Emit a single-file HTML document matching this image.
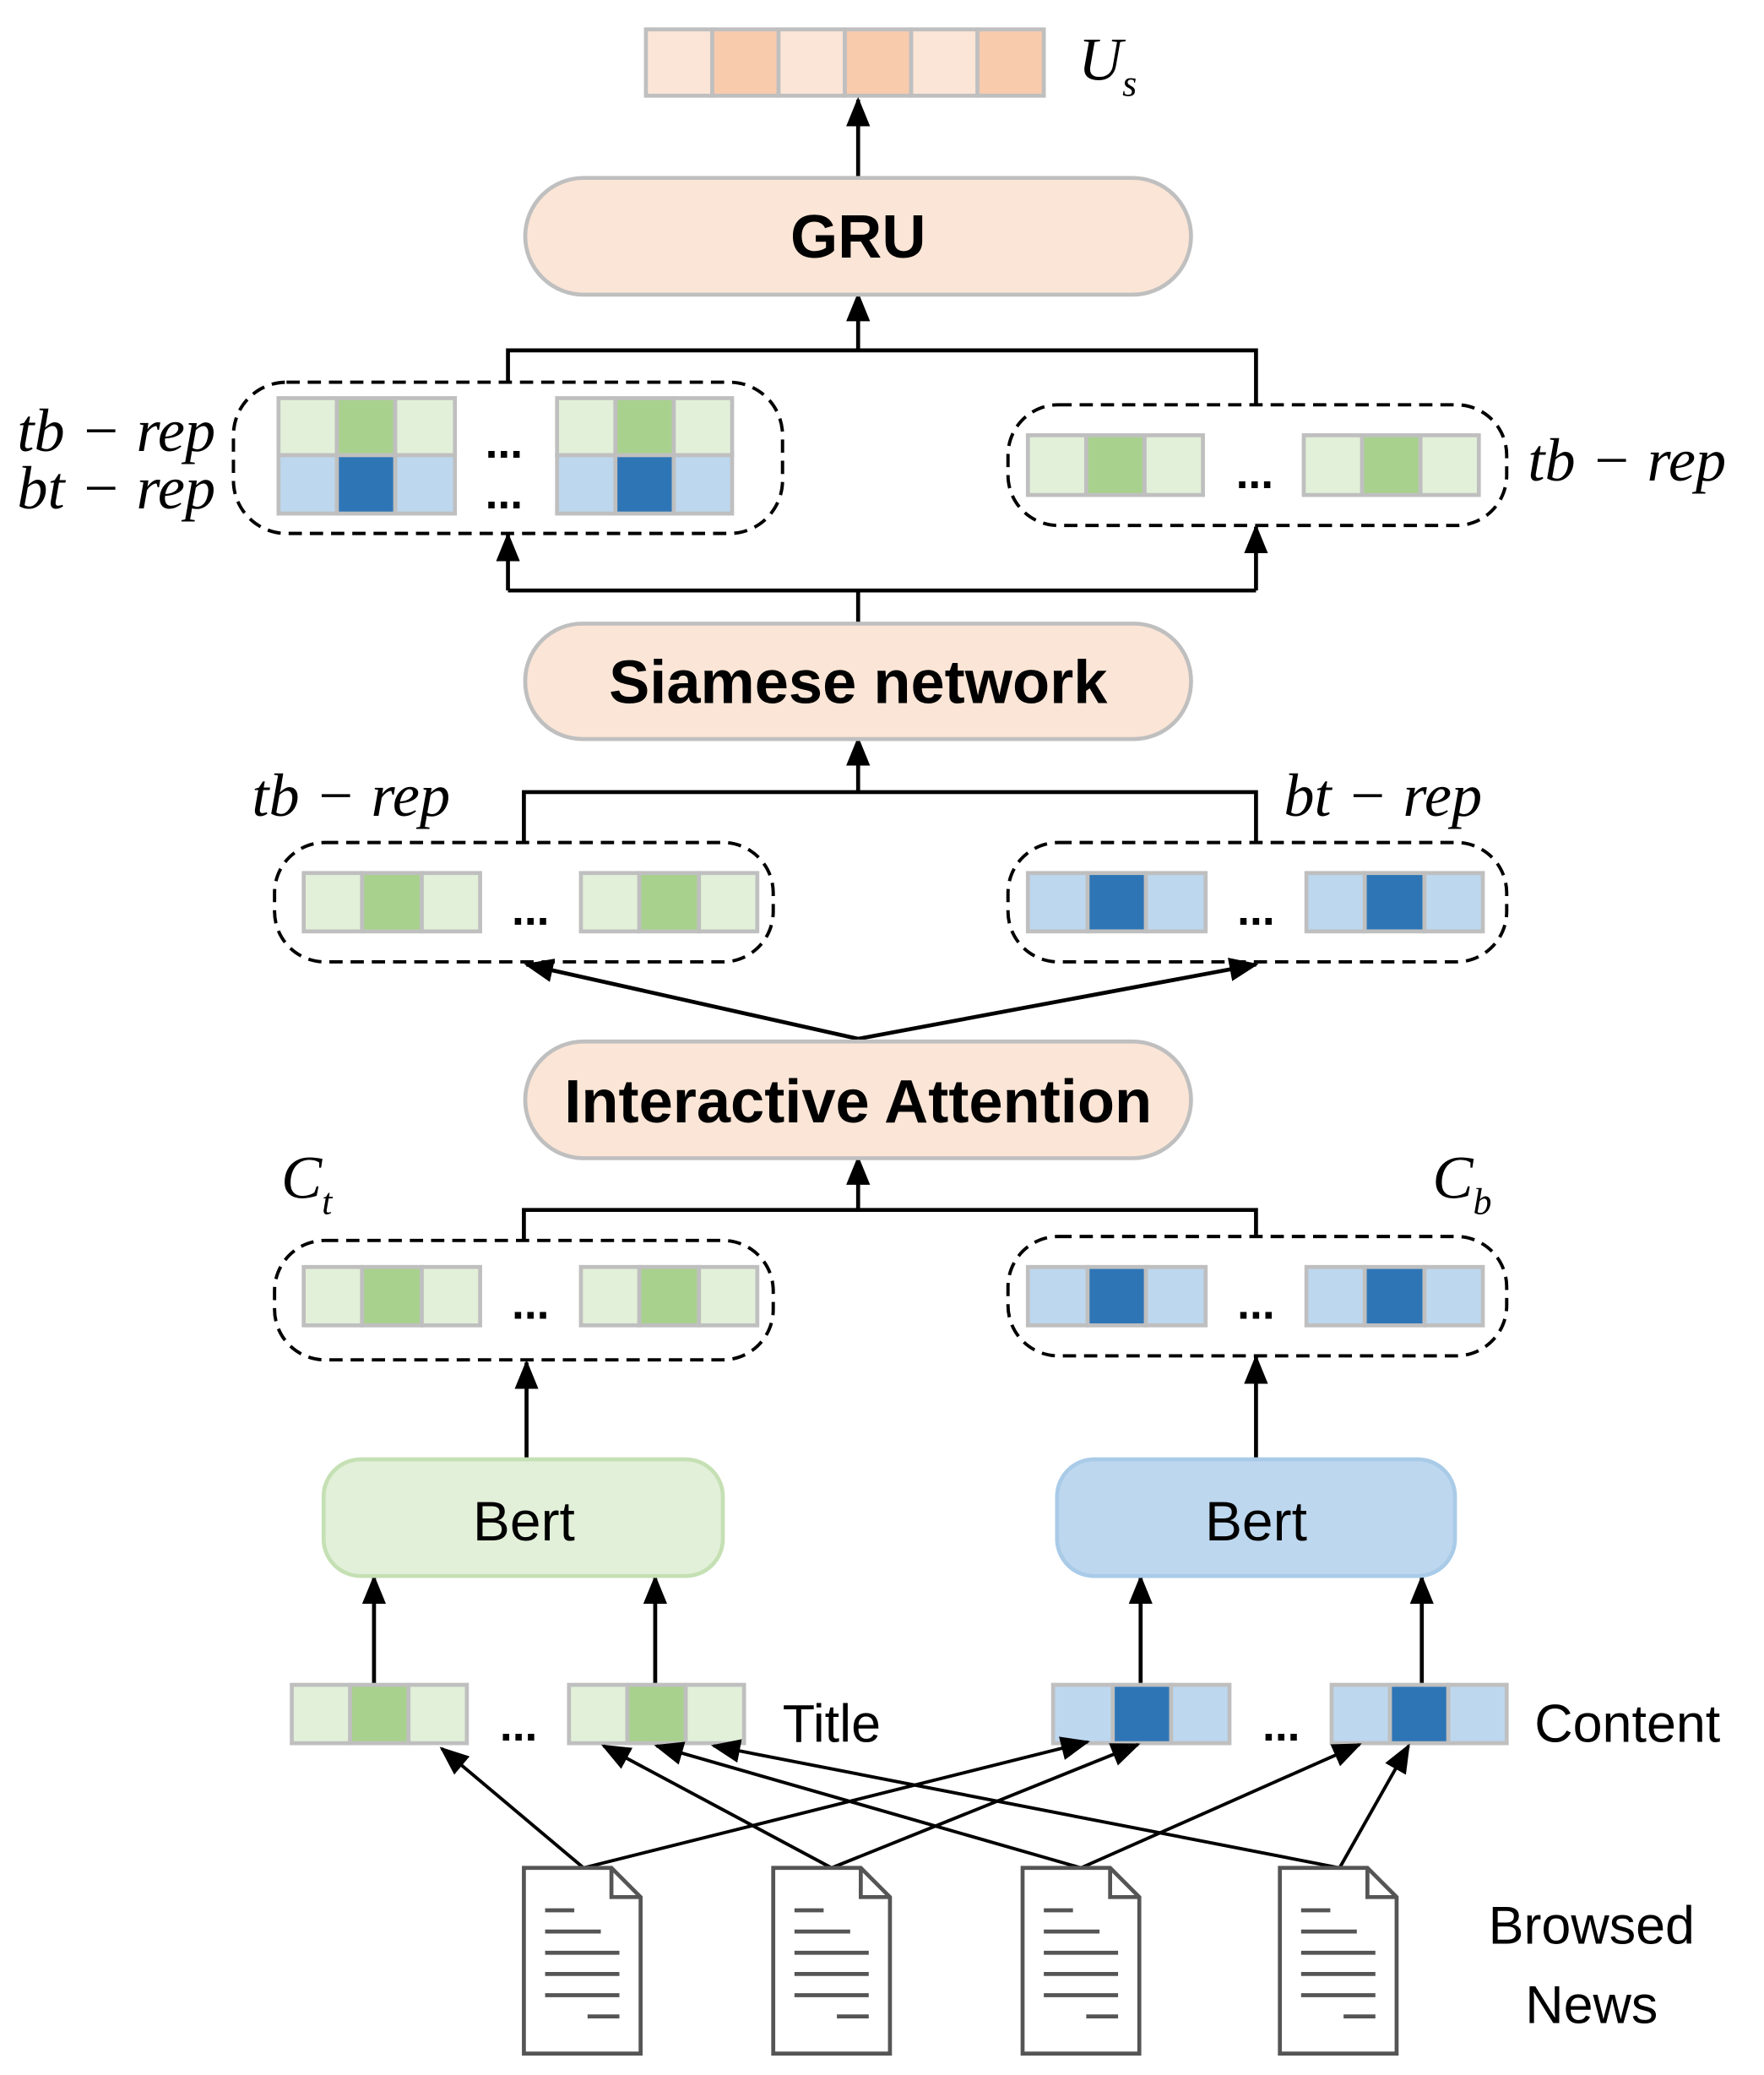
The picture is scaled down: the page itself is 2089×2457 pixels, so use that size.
<!DOCTYPE html>
<html><head><meta charset="utf-8"><style>html,body{margin:0;padding:0;background:#fff}svg{display:block}</style></head><body>
<svg width="2089" height="2457" viewBox="0 0 1330 1564" xmlns="http://www.w3.org/2000/svg">
<defs>
<marker id="b" markerWidth="22" markerHeight="22" refX="20" refY="11" orient="auto" markerUnits="userSpaceOnUse" viewBox="0 0 22 22"><path d="M0,2 L22,11 L0,20 z" fill="#000"/></marker>
</defs>
<g font-family="Liberation Sans, sans-serif">
<g stroke="#bfbfbf" stroke-width="3">
<rect x="487" y="22" width="50" height="50" fill="#fbe5d6"/><rect x="537" y="22" width="50" height="50" fill="#f8cbad"/>
<rect x="587" y="22" width="50" height="50" fill="#fbe5d6"/><rect x="637" y="22" width="50" height="50" fill="#f8cbad"/>
<rect x="687" y="22" width="50" height="50" fill="#fbe5d6"/><rect x="737" y="22" width="50" height="50" fill="#f8cbad"/>
</g>
<text x="813" y="60" font-family="Liberation Serif, serif" font-style="italic" font-size="46">U<tspan font-size="28" dy="12">s</tspan></text>

<g stroke="#000" stroke-width="3" fill="none">
<line x1="647" y1="134" x2="647" y2="75" marker-end="url(#b)"/>
<line x1="647" y1="264" x2="647" y2="222" marker-end="url(#b)"/>
<polyline points="383,288 383,264 947,264 947,305"/>
<line x1="383" y1="445" x2="383" y2="403" marker-end="url(#b)"/>
<line x1="947" y1="445" x2="947" y2="397" marker-end="url(#b)"/>
<polyline points="383,445 947,445"/><line x1="647" y1="445" x2="647" y2="470"/>
<line x1="647" y1="598" x2="647" y2="557" marker-end="url(#b)"/>
<polyline points="395,635 395,597 947,597 947,635"/>
<line x1="647" y1="783" x2="397" y2="727" marker-end="url(#b)"/>
<line x1="647" y1="783" x2="947" y2="727" marker-end="url(#b)"/>
<line x1="647" y1="912" x2="647" y2="873" marker-end="url(#b)"/>
<polyline points="395,935 395,912 947,912 947,932"/>
<line x1="397" y1="1100" x2="397" y2="1027" marker-end="url(#b)"/>
<line x1="947" y1="1100" x2="947" y2="1023" marker-end="url(#b)"/>
<line x1="282" y1="1270" x2="282" y2="1189" marker-end="url(#b)"/>
<line x1="494" y1="1270" x2="494" y2="1189" marker-end="url(#b)"/>
<line x1="860" y1="1270" x2="860" y2="1189" marker-end="url(#b)"/>
<line x1="1072" y1="1270" x2="1072" y2="1189" marker-end="url(#b)"/>
</g>

<g fill="#fbe5d6" stroke="#bfbfbf" stroke-width="3">
<rect x="396" y="134" width="502" height="88" rx="44"/>
<rect x="396" y="470" width="502" height="87" rx="43"/>
<rect x="396" y="785" width="502" height="88" rx="44"/>
</g>
<g font-weight="bold" font-size="46" text-anchor="middle" fill="#000">
<text x="647" y="194">GRU</text>
<text x="647" y="530">Siamese network</text>
<text x="647" y="846">Interactive Attention</text>
</g>
<rect x="244" y="1100" width="301" height="88" rx="28" fill="#e2f0d9" stroke="#c5e0b4" stroke-width="3"/>
<rect x="797" y="1100" width="300" height="88" rx="28" fill="#bdd7ee" stroke="#a9cbe8" stroke-width="3"/>
<text x="395" y="1161" font-size="42" text-anchor="middle">Bert</text>
<text x="947" y="1161" font-size="42" text-anchor="middle">Bert</text>

<g fill="none" stroke="#000" stroke-width="2.5" stroke-dasharray="10,6">
<rect x="176" y="288" width="414" height="114" rx="40"/>
<rect x="760" y="305" width="376" height="91" rx="38"/>
<rect x="207" y="635" width="376" height="90" rx="38"/>
<rect x="760" y="635" width="376" height="90" rx="38"/>
<rect x="207" y="935" width="376" height="90" rx="38"/>
<rect x="760" y="932" width="376" height="90" rx="38"/>
</g>

<g stroke="#bfbfbf" stroke-width="3">
<rect x="210" y="300" width="44" height="43" fill="#e2f0d9"/><rect x="254" y="300" width="44" height="43" fill="#a9d18e"/><rect x="298" y="300" width="45" height="43" fill="#e2f0d9"/>
<rect x="210" y="343" width="44" height="44" fill="#bdd7ee"/><rect x="254" y="343" width="44" height="44" fill="#2e75b6"/><rect x="298" y="343" width="45" height="44" fill="#bdd7ee"/>
<rect x="420" y="300" width="44" height="43" fill="#e2f0d9"/><rect x="464" y="300" width="44" height="43" fill="#a9d18e"/><rect x="508" y="300" width="44" height="43" fill="#e2f0d9"/>
<rect x="420" y="343" width="44" height="44" fill="#bdd7ee"/><rect x="464" y="343" width="44" height="44" fill="#2e75b6"/><rect x="508" y="343" width="44" height="44" fill="#bdd7ee"/>
<rect x="775" y="328" width="44" height="45" fill="#e2f0d9"/><rect x="819" y="328" width="44" height="45" fill="#a9d18e"/><rect x="863" y="328" width="44" height="45" fill="#e2f0d9"/>
<rect x="983" y="328" width="44" height="45" fill="#e2f0d9"/><rect x="1027" y="328" width="44" height="45" fill="#a9d18e"/><rect x="1071" y="328" width="44" height="45" fill="#e2f0d9"/>
<rect x="229" y="658" width="44" height="44" fill="#e2f0d9"/><rect x="273" y="658" width="45" height="44" fill="#a9d18e"/><rect x="318" y="658" width="44" height="44" fill="#e2f0d9"/>
<rect x="438" y="658" width="44" height="44" fill="#e2f0d9"/><rect x="482" y="658" width="45" height="44" fill="#a9d18e"/><rect x="527" y="658" width="44" height="44" fill="#e2f0d9"/>
<rect x="775" y="658" width="45" height="44" fill="#bdd7ee"/><rect x="820" y="658" width="44" height="44" fill="#2e75b6"/><rect x="864" y="658" width="45" height="44" fill="#bdd7ee"/>
<rect x="985" y="658" width="44" height="44" fill="#bdd7ee"/><rect x="1029" y="658" width="45" height="44" fill="#2e75b6"/><rect x="1074" y="658" width="44" height="44" fill="#bdd7ee"/>
<rect x="229" y="955" width="44" height="44" fill="#e2f0d9"/><rect x="273" y="955" width="45" height="44" fill="#a9d18e"/><rect x="318" y="955" width="44" height="44" fill="#e2f0d9"/>
<rect x="438" y="955" width="44" height="44" fill="#e2f0d9"/><rect x="482" y="955" width="45" height="44" fill="#a9d18e"/><rect x="527" y="955" width="44" height="44" fill="#e2f0d9"/>
<rect x="775" y="955" width="45" height="44" fill="#bdd7ee"/><rect x="820" y="955" width="44" height="44" fill="#2e75b6"/><rect x="864" y="955" width="45" height="44" fill="#bdd7ee"/>
<rect x="985" y="955" width="44" height="44" fill="#bdd7ee"/><rect x="1029" y="955" width="45" height="44" fill="#2e75b6"/><rect x="1074" y="955" width="44" height="44" fill="#bdd7ee"/>
<rect x="220" y="1270" width="44" height="44" fill="#e2f0d9"/><rect x="264" y="1270" width="44" height="44" fill="#a9d18e"/><rect x="308" y="1270" width="44" height="44" fill="#e2f0d9"/>
<rect x="429" y="1270" width="44" height="44" fill="#e2f0d9"/><rect x="473" y="1270" width="44" height="44" fill="#a9d18e"/><rect x="517" y="1270" width="44" height="44" fill="#e2f0d9"/>
<rect x="794" y="1270" width="45" height="44" fill="#bdd7ee"/><rect x="839" y="1270" width="44" height="44" fill="#2e75b6"/><rect x="883" y="1270" width="44" height="44" fill="#bdd7ee"/>
<rect x="1004" y="1270" width="44" height="44" fill="#bdd7ee"/><rect x="1048" y="1270" width="44" height="44" fill="#2e75b6"/><rect x="1092" y="1270" width="44" height="44" fill="#bdd7ee"/>
</g>

<g font-size="34" font-weight="bold" text-anchor="middle">
<text x="380" y="345">...</text><text x="380" y="383">...</text>
<text x="946" y="368">...</text>
<text x="400" y="697">...</text><text x="947" y="697">...</text>
<text x="400" y="994">...</text><text x="947" y="994">...</text>
<text x="391" y="1312">...</text><text x="966" y="1312">...</text>
</g>

<g font-family="Liberation Serif, serif" font-style="italic" font-size="46">
<text x="13" y="340">tb − rep</text>
<text x="13" y="383">bt − rep</text>
<text x="1152" y="362">tb − rep</text>
<text x="190" y="615">tb − rep</text>
<text x="968" y="615">bt − rep</text>
<text x="212" y="903">C<tspan font-size="28" dy="12">t</tspan></text>
<text x="1080" y="903">C<tspan font-size="28" dy="12">b</tspan></text>
</g>
<text x="590" y="1313" font-size="40">Title</text>
<text x="1157" y="1313" font-size="40">Content</text>
<text x="1200" y="1465" font-size="40" text-anchor="middle">Browsed</text>
<text x="1200" y="1525" font-size="40" text-anchor="middle">News</text>

<g stroke="#000" stroke-width="2.5" fill="none">
<line x1="440" y1="1408" x2="333" y2="1318" marker-end="url(#b)"/>
<line x1="440" y1="1408" x2="820" y2="1313" marker-end="url(#b)"/>
<line x1="627" y1="1408" x2="455" y2="1316" marker-end="url(#b)"/>
<line x1="627" y1="1408" x2="858" y2="1315" marker-end="url(#b)"/>
<line x1="815" y1="1408" x2="495" y2="1316" marker-end="url(#b)"/>
<line x1="815" y1="1408" x2="1025" y2="1315" marker-end="url(#b)"/>
<line x1="1010" y1="1408" x2="538" y2="1316" marker-end="url(#b)"/>
<line x1="1010" y1="1408" x2="1062" y2="1316" marker-end="url(#b)"/>
</g>

<g stroke="#555" stroke-width="3" fill="#fff">
<g transform="translate(395,1408)"><path d="M0,0 H66 L88,22 V140 H0 Z"/><path d="M66,0 V22 H88" fill="none"/><line x1="16" y1="32" x2="38" y2="32"/><line x1="16" y1="48" x2="58" y2="48"/><line x1="16" y1="64" x2="72" y2="64"/><line x1="16" y1="80" x2="72" y2="80"/><line x1="16" y1="96" x2="72" y2="96"/><line x1="48" y1="112" x2="72" y2="112"/></g>
<g transform="translate(583,1408)"><path d="M0,0 H66 L88,22 V140 H0 Z"/><path d="M66,0 V22 H88" fill="none"/><line x1="16" y1="32" x2="38" y2="32"/><line x1="16" y1="48" x2="58" y2="48"/><line x1="16" y1="64" x2="72" y2="64"/><line x1="16" y1="80" x2="72" y2="80"/><line x1="16" y1="96" x2="72" y2="96"/><line x1="48" y1="112" x2="72" y2="112"/></g>
<g transform="translate(771,1408)"><path d="M0,0 H66 L88,22 V140 H0 Z"/><path d="M66,0 V22 H88" fill="none"/><line x1="16" y1="32" x2="38" y2="32"/><line x1="16" y1="48" x2="58" y2="48"/><line x1="16" y1="64" x2="72" y2="64"/><line x1="16" y1="80" x2="72" y2="80"/><line x1="16" y1="96" x2="72" y2="96"/><line x1="48" y1="112" x2="72" y2="112"/></g>
<g transform="translate(965,1408)"><path d="M0,0 H66 L88,22 V140 H0 Z"/><path d="M66,0 V22 H88" fill="none"/><line x1="16" y1="32" x2="38" y2="32"/><line x1="16" y1="48" x2="58" y2="48"/><line x1="16" y1="64" x2="72" y2="64"/><line x1="16" y1="80" x2="72" y2="80"/><line x1="16" y1="96" x2="72" y2="96"/><line x1="48" y1="112" x2="72" y2="112"/></g>
</g>
</g>
</svg>
</body></html>
